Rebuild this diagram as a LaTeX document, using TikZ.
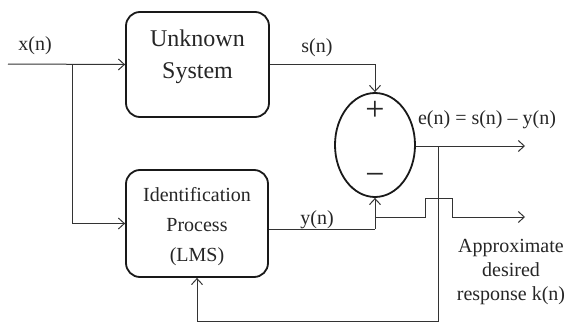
\documentclass[tikz,border=0pt]{standalone}
\usepackage{fontspec}
\setmainfont{Liberation Serif}
\usetikzlibrary{shapes.geometric,arrows.meta}
\begin{document}
\begin{tikzpicture}[x=1pt,y=-1pt,
  blockbox/.style={draw=black!90,line width=1.8pt,rounded corners=14pt,inner sep=0pt},
  sumnode/.style={draw=black!90,line width=1.8pt,ellipse,inner sep=0pt,minimum width=80pt,minimum height=104pt},
  wire/.style={draw=black!80,line width=1pt},
  arr/.style={wire,-{Straight Barb[length=6pt,width=11pt,line width=1pt]}},
  lbl/.style={text=black!85,font=\fontsize{20}{24}\selectfont,inner sep=0pt},
  big/.style={text=black!85,font=\fontsize{24}{32}\selectfont,align=center,inner sep=0pt},
  mid/.style={text=black!85,font=\fontsize{20}{30}\selectfont,align=center,inner sep=0pt},
  sign/.style={text=black!85,font=\fontsize{34}{34}\selectfont,inner sep=0pt}]
\useasboundingbox (0,0) rectangle (565,324);

% blocks
\node[blockbox,minimum width=143pt,minimum height=105pt] (us) at (197.5,64.5) {};
\node[big] (ustext) at (197.5,57) {Unknown\\System};
\node[blockbox,minimum width=142pt,minimum height=107pt] (ip) at (197,223.5) {};
\node[mid] (iptext) at (197,227) {Identification\\Process\\(LMS)};
\node[sumnode] (sum) at (375,145) {};
\node[sign] (plus) at (375,111) {+};
\node[sign] (minus) at (375,179) {−};

% reference points
\coordinate (xin) at (8,64);
\coordinate (split) at (72,64);
\coordinate (yrow) at (268,229);
\coordinate (yturn) at (375,229);
\coordinate (eout) at (525,146);
\coordinate (tap) at (438,146);
\coordinate (tapdown) at (438,321);
\coordinate (kstart) at (375,217);
\coordinate (hop1) at (425,217);
\coordinate (hop2) at (425,198);
\coordinate (hop3) at (452,198);
\coordinate (hop4) at (452,217);
\coordinate (kout) at (525,217);

% connectors
\draw[arr] (xin) -- (us.west);
\draw[arr] (split) |- (ip.west);
\draw[arr] (us.east) -| (sum.north);
\draw[wire] (ip.east |- yrow) -- (yturn);
\draw[arr] (yturn) -- (sum.south);
\draw[arr] (sum.east |- eout) -- (eout);
\draw[arr] (tap) -- (tapdown) -| (ip.south);
\draw[arr] (kstart) -- (hop1) -- (hop2) -- (hop3) -- (hop4) -- (kout);

% labels
\node[lbl] (xlab) at (35,46) {x(n)};
\node[lbl] (slab) at (317,48) {s(n)};
\node[lbl] (ylab) at (317,220) {y(n)};
\node[lbl] (elab) at (487,120) {e(n) = s(n) – y(n)};
\node[lbl,align=center,font=\fontsize{20}{24}\selectfont] (klab) at (511,272) {Approximate\\desired\\response k(n)};
\end{tikzpicture}
\end{document}
